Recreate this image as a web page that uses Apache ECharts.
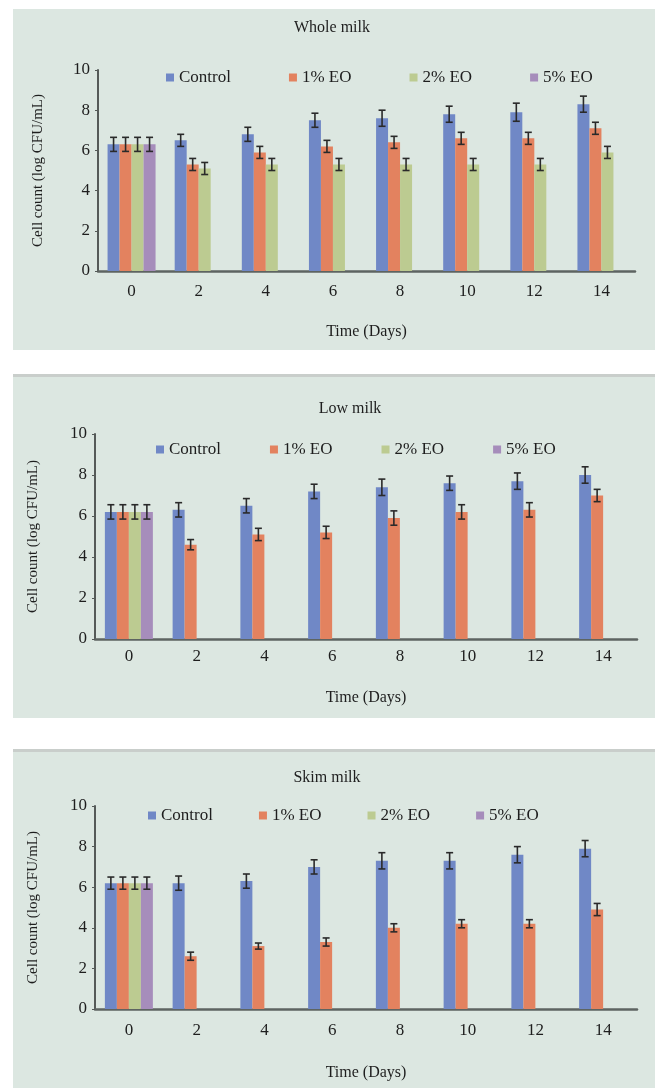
<!DOCTYPE html>
<html><head><meta charset="utf-8">
<script src="https://cdn.jsdelivr.net/npm/echarts@6.0.0/dist/echarts.min.js"></script>
<style>html,body{margin:0;padding:0;background:#fff}#c{width:655px;height:1088px}</style>
</head><body><div id="c"></div>
<script>
// ---- data ----
const days = ['0', '2', '4', '6', '8', '10', '12', '14'];
const seriesNames = ['Control', '1% EO', '2% EO', '5% EO'];
const yTicks = [0, 2, 4, 6, 8, 10];

const wholeControl = [6.3, 6.5, 6.8, 7.5, 7.6, 7.8, 7.9, 8.3];
const whole1EO     = [6.3, 5.3, 5.9, 6.2, 6.4, 6.6, 6.6, 7.1];
const whole2EO     = [6.3, 5.1, 5.3, 5.3, 5.3, 5.3, 5.3, 5.9];
const whole5EO     = [6.3, null, null, null, null, null, null, null];
const wholeControlErr = [0.35, 0.3, 0.35, 0.35, 0.4, 0.4, 0.45, 0.4];
const whole1EOErr     = [0.35, 0.3, 0.3, 0.3, 0.3, 0.3, 0.3, 0.3];
const whole2EOErr     = [0.35, 0.3, 0.3, 0.3, 0.3, 0.3, 0.3, 0.3];
const whole5EOErr     = [0.35, null, null, null, null, null, null, null];

const lowControl = [6.2, 6.3, 6.5, 7.2, 7.4, 7.6, 7.7, 8.0];
const low1EO     = [6.2, 4.6, 5.1, 5.2, 5.9, 6.2, 6.3, 7.0];
const low2EO     = [6.2, null, null, null, null, null, null, null];
const low5EO     = [6.2, null, null, null, null, null, null, null];
const lowControlErr = [0.35, 0.35, 0.35, 0.35, 0.4, 0.35, 0.4, 0.4];
const low1EOErr     = [0.35, 0.25, 0.3, 0.3, 0.35, 0.35, 0.35, 0.3];
const low2EOErr     = [0.35, null, null, null, null, null, null, null];
const low5EOErr     = [0.35, null, null, null, null, null, null, null];

const skimControl = [6.2, 6.2, 6.3, 7.0, 7.3, 7.3, 7.6, 7.9];
const skim1EO     = [6.2, 2.6, 3.1, 3.3, 4.0, 4.2, 4.2, 4.9];
const skim2EO     = [6.2, null, null, null, null, null, null, null];
const skim5EO     = [6.2, null, null, null, null, null, null, null];
const skimControlErr = [0.3, 0.35, 0.35, 0.35, 0.4, 0.4, 0.4, 0.4];
const skim1EOErr     = [0.3, 0.2, 0.15, 0.2, 0.2, 0.2, 0.2, 0.3];
const skim2EOErr     = [0.3, null, null, null, null, null, null, null];
const skim5EOErr     = [0.3, null, null, null, null, null, null, null];

const panelTitles = ['Whole milk', 'Low milk', 'Skim milk'];
const xTitle = 'Time (Days)';
const yTitle = 'Cell count (log CFU/mL)';

// ---- style / layout ----
const colors = ['#7088C6', '#E3825F', '#BCCB91', '#A68DBB'];
const FONT = '"Liberation Serif", "DejaVu Serif", serif';
const TXT = '#1e1e1e';
const BAR_W = 12;

const panels = [
  { values: [wholeControl, whole1EO, whole2EO, whole5EO],
    errs: [wholeControlErr, whole1EOErr, whole2EOErr, whole5EOErr],
    bgTop: 9, bgBottom: 350, border: false,
    titleX: 332, titleTop: 20,
    legendLeft: 166, legendTop: 69, legendGap: 58,
    grid: { left: 98, top: 70, width: 537, height: 201 },
    xNameGap: 53, yNameGap: 52, labelMargin: 12 },
  { values: [lowControl, low1EO, low2EO, low5EO],
    errs: [lowControlErr, low1EOErr, low2EOErr, low5EOErr],
    bgTop: 375, bgBottom: 718, border: true,
    titleX: 350, titleTop: 401,
    legendLeft: 156, legendTop: 441, legendGap: 49,
    grid: { left: 95, top: 434, width: 542, height: 205 },
    xNameGap: 51, yNameGap: 54, labelMargin: 9 },
  { values: [skimControl, skim1EO, skim2EO, skim5EO],
    errs: [skimControlErr, skim1EOErr, skim2EOErr, skim5EOErr],
    bgTop: 750, bgBottom: 1088, border: true,
    titleX: 327, titleTop: 770,
    legendLeft: 148, legendTop: 807, legendGap: 46,
    grid: { left: 95, top: 806, width: 542, height: 203 },
    xNameGap: 56, yNameGap: 54, labelMargin: 13 }
];

function errRender(offset) {
  return function (params, api) {
    const m = api.value(1), e = api.value(2);
    if (m == null || isNaN(m) || e == null || isNaN(e)) return null;
    const i = api.value(0);
    const x = api.coord([i, m])[0] + offset;
    const top = api.coord([i, m + e])[1];
    const bot = api.coord([i, m - e])[1];
    const hw = 3.5;
    const st = { stroke: '#2a2a2a', lineWidth: 1.6 };
    return { type: 'group', children: [
      { type: 'line', shape: { x1: x, y1: top, x2: x, y2: bot }, style: st },
      { type: 'line', shape: { x1: x - hw, y1: top, x2: x + hw, y2: top }, style: st },
      { type: 'line', shape: { x1: x - hw, y1: bot, x2: x + hw, y2: bot }, style: st }
    ]};
  };
}

const option = {
  animation: false,
  backgroundColor: '#ffffff',
  color: colors,
  textStyle: { fontFamily: FONT, color: TXT },
  graphic: [],
  title: [],
  legend: [],
  grid: [],
  xAxis: [],
  yAxis: [],
  series: []
};

panels.forEach(function (p, pi) {
  option.graphic.push({ type: 'rect', z: -10, silent: true,
    shape: { x: 13, y: p.bgTop, width: 642, height: p.bgBottom - p.bgTop },
    style: { fill: '#DCE7E1' } });
  if (p.border) {
    option.graphic.push({ type: 'rect', z: -9, silent: true,
      shape: { x: 13, y: p.bgTop - 1, width: 642, height: 3 },
      style: { fill: '#C9CECB' } });
  }
  option.title.push({ text: panelTitles[pi], left: p.titleX, top: p.titleTop, textAlign: 'center', padding: 0,
    textStyle: { fontFamily: FONT, fontWeight: 'normal', fontSize: 16, color: TXT } });
  option.legend.push({ data: seriesNames, left: p.legendLeft, top: p.legendTop, padding: 0,
    icon: 'rect', itemWidth: 8, itemHeight: 8, itemGap: p.legendGap, orient: 'horizontal',
    textStyle: { fontFamily: FONT, fontSize: 17, color: TXT } });
  option.grid.push(Object.assign({ containLabel: false }, p.grid));
  option.xAxis.push({ type: 'category', gridIndex: pi, data: days,
    name: xTitle, nameLocation: 'middle', nameGap: p.xNameGap,
    nameTextStyle: { fontFamily: FONT, fontSize: 16, color: TXT },
    axisLine: { lineStyle: { color: '#5d6461', width: 2.5 } },
    axisTick: { show: false },
    axisLabel: { fontFamily: FONT, fontSize: 17, color: TXT, margin: p.labelMargin },
    splitLine: { show: false } });
  option.yAxis.push({ type: 'value', gridIndex: pi, min: yTicks[0], max: yTicks[yTicks.length - 1], interval: 2,
    name: yTitle, nameLocation: 'middle', nameGap: p.yNameGap, nameRotate: 90,
    nameTextStyle: { fontFamily: FONT, fontSize: 15, color: TXT },
    axisLine: { show: true, lineStyle: { color: '#555a58', width: 2 } },
    axisTick: { show: true, length: 3, lineStyle: { color: '#555a58' } },
    axisLabel: { fontFamily: FONT, fontSize: 17, color: TXT, margin: 8 },
    splitLine: { show: false } });
  seriesNames.forEach(function (name, si) {
    option.series.push({ type: 'bar', name: name, xAxisIndex: pi, yAxisIndex: pi,
      data: p.values[si], barWidth: BAR_W, barGap: '0%',
      itemStyle: { color: colors[si] } });
  });
  seriesNames.forEach(function (name, si) {
    const d = [];
    p.values[si].forEach(function (v, i) {
      if (v != null && p.errs[si][i] != null) d.push([i, v, p.errs[si][i]]);
    });
    option.series.push({ type: 'custom', name: name + ' err', xAxisIndex: pi, yAxisIndex: pi,
      renderItem: errRender((si - 1.5) * BAR_W), encode: { x: 0, y: 1 }, data: d, z: 5, silent: true });
  });
});

const chart = echarts.init(document.getElementById('c'));
chart.setOption(option);
</script></body></html>
